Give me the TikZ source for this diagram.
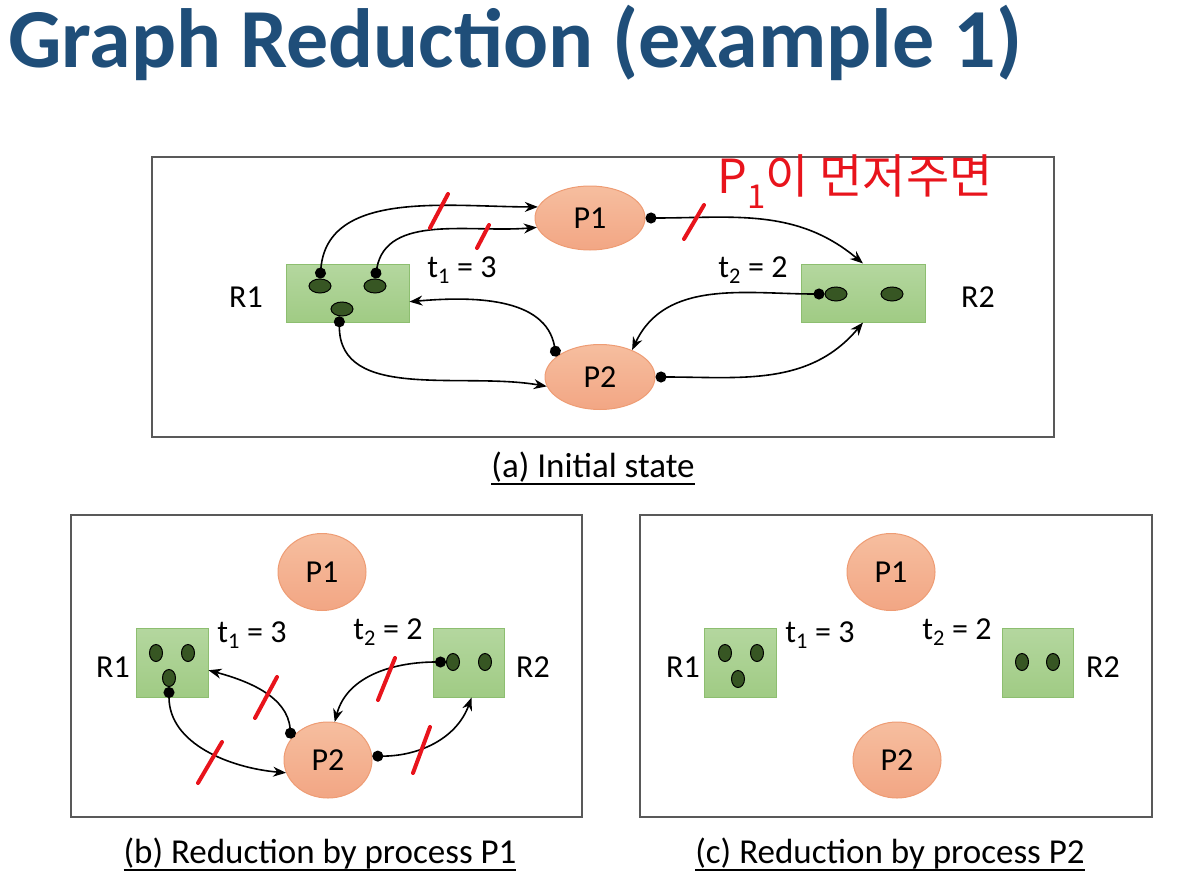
\documentclass[tikz,border=0pt]{standalone}
\usepackage{fontspec}
\setmainfont{Carlito}
\newfontfamily\krfont{Noto Sans CJK KR}
\newcommand\capline[1]{\setbox0\hbox{#1}\rlap{\raisebox{-8pt}{\rule{\wd0}{2pt}}}\box0}
\usetikzlibrary{shapes.geometric, arrows.meta, positioning}
\definecolor{titleblue}{HTML}{1F4E79}
\definecolor{proctop}{HTML}{F6BE9F}
\definecolor{procbot}{HTML}{F2A684}
\definecolor{procdraw}{HTML}{EE9C74}
\definecolor{restop}{HTML}{B4D79F}
\definecolor{resbot}{HTML}{A0CB84}
\definecolor{resdraw}{HTML}{8DBE70}
\definecolor{unitfill}{HTML}{375623}
\definecolor{framegray}{HTML}{595959}
\definecolor{penred}{HTML}{E8141C}
\tikzstyle{framebox} = [draw=framegray, line width=2pt]
\tikzstyle{process} = [ellipse, draw=procdraw, line width=1pt, top color=proctop, bottom color=procbot, inner sep=0pt, font=\fontsize{32}{38}\selectfont]
\tikzstyle{resource} = [rectangle, draw=resdraw, line width=1pt, top color=restop, bottom color=resbot, inner sep=0pt]
\tikzstyle{unit} = [ellipse, draw=black, fill=unitfill, line width=1pt, inner sep=0pt]
\tikzstyle{tag} = [inner sep=0pt, font=\fontsize{32}{38}\selectfont]
\tikzstyle{caption} = [anchor=base, inner sep=0pt, font=\fontsize{35}{42}\selectfont]
\tikzstyle{arrow} = [line width=1.6pt, {Circle[length=11pt]}-{Stealth[length=13pt, width=10pt]}]
\tikzstyle{cut} = [penred, line width=4pt, line cap=round]

\begin{document}
\begin{tikzpicture}[x=1pt, y=-1pt]
    \useasboundingbox (0,0) rectangle (1177,883);
    \node (title) [anchor=base west, inner sep=0pt, text=titleblue, font=\bfseries\fontsize{84}{100}\selectfont] at (8,67) {Graph Reduction (example 1)};

    % (a) initial state
    \draw [framebox] (152,157) rectangle (1054,437);
    \node (p1a) [process, minimum width=110pt, minimum height=64pt] at (590,218) {P1};
    \node (p2a) [process, minimum width=110pt, minimum height=65pt] at (600,377) {P2};
    \node (r1a) [resource, minimum width=123pt, minimum height=58pt] at (347.5,293) {};
    \node (r2a) [resource, minimum width=124pt, minimum height=58pt] at (863,293) {};
    \node (u1) [unit, minimum width=22pt, minimum height=14pt] at (320,286) {};
    \node (u2) [unit, minimum width=22pt, minimum height=14pt] at (375,286) {};
    \node (u3) [unit, minimum width=22pt, minimum height=14pt] at (342,309) {};
    \node (v1) [unit, minimum width=22pt, minimum height=14pt] at (836,294) {};
    \node (v2) [unit, minimum width=22pt, minimum height=14pt] at (892,294) {};
    \node (r1tag) [tag] at (246,297) {R1};
    \node (r2tag) [tag] at (978,297) {R2};
    \node (t1a) [tag] at (462,270) {t\textsubscript{1} = 3};
    \node (t2a) [tag] at (753,270) {t\textsubscript{2} = 2};

    \draw [arrow] (u1.north) to[out=85, in=180] (p1a.168);
    \draw [arrow] (u2.north) to[out=80, in=185] (p1a.190);
    \draw [arrow] (p1a.east) to[out=0, in=140] (r2a.north);
    \draw [arrow] (v1.west) to[out=180, in=65] (p2a.40);
    \draw [arrow] (p2a.east) to[out=0, in=230] (r2a.south);
    \draw [arrow] (p2a.155) to[out=100, in=5] (r1a.352);
    \draw [arrow] (u3.250) to[out=270, in=170] (p2a.190);

    \draw [cut] (430,228) -- (448,194);
    \draw [cut] (477,248) -- (489,225);
    \draw [cut] (684,239) -- (704,205);
    \node (note) [text=penred, inner sep=0pt, font=\krfont\fontsize{47}{54}\selectfont] at (855,182) {P\textsubscript{1}이 먼저주면};

    \node (capa) [caption] at (593,477) {\capline{(a) Initial state}};

    % (b) reduction by P1
    \draw [framebox] (71,515) rectangle (582,817);
    \node (p1b) [process, minimum width=88pt, minimum height=77pt] at (322,572) {P1};
    \node (p2b) [process, minimum width=88pt, minimum height=76pt] at (328,760) {P2};
    \node (r1b) [resource, minimum width=72pt, minimum height=69pt] at (172,662.5) {};
    \node (r2b) [resource, minimum width=71pt, minimum height=69pt] at (468.5,662.5) {};
    \node (w1) [unit, minimum width=13pt, minimum height=17pt] at (156,653) {};
    \node (w2) [unit, minimum width=13pt, minimum height=17pt] at (188,653) {};
    \node (w3) [unit, minimum width=13pt, minimum height=17pt] at (169,678) {};
    \node (x1) [unit, minimum width=13pt, minimum height=17pt] at (453,662) {};
    \node (x2) [unit, minimum width=13pt, minimum height=17pt] at (485,662) {};
    \node (r1tagb) [tag] at (113,667) {R1};
    \node (r2tagb) [tag] at (533,667) {R2};
    \node (t1b) [tag] at (252,635) {t\textsubscript{1} = 3};
    \node (t2b) [tag] at (388,632) {t\textsubscript{2} = 2};

    \draw [arrow] (w3.south) to[out=270, in=175] (p2b.197);
    \draw [arrow] (p2b.150) to[out=95, in=-15] (r1b.348);
    \draw [arrow] (x1.west) to[out=180, in=75] (p2b.80);
    \draw [arrow] (p2b.5) to[out=0, in=250] (r2b.-85);

    \draw [cut] (255,718) -- (277,677);
    \draw [cut] (198,783) -- (222,742);
    \draw [cut] (378,700) -- (395,658);
    \draw [cut] (413,773) -- (430,727);

    \node (capb) [caption] at (320,863) {\capline{(b) Reduction by process P1}};

    % (c) reduction by P2
    \draw [framebox] (640,515) rectangle (1152,817);
    \node (p1c) [process, minimum width=88pt, minimum height=77pt] at (891,572) {P1};
    \node (p2c) [process, minimum width=88pt, minimum height=76pt] at (897,760) {P2};
    \node (r1c) [resource, minimum width=72pt, minimum height=69pt] at (740.5,662.5) {};
    \node (r2c) [resource, minimum width=71pt, minimum height=69pt] at (1037.5,662.5) {};
    \node (y1) [unit, minimum width=13pt, minimum height=17pt] at (725,653) {};
    \node (y2) [unit, minimum width=13pt, minimum height=17pt] at (757,653) {};
    \node (y3) [unit, minimum width=13pt, minimum height=17pt] at (738,679) {};
    \node (z1) [unit, minimum width=13pt, minimum height=17pt] at (1022,662) {};
    \node (z2) [unit, minimum width=13pt, minimum height=17pt] at (1053,662) {};
    \node (r1tagc) [tag] at (683,667) {R1};
    \node (r2tagc) [tag] at (1103,667) {R2};
    \node (t1c) [tag] at (820,635) {t\textsubscript{1} = 3};
    \node (t2c) [tag] at (957,632) {t\textsubscript{2} = 2};

    \node (capc) [caption] at (890,863) {\capline{(c) Reduction by process P2}};
\end{tikzpicture}
\end{document}
